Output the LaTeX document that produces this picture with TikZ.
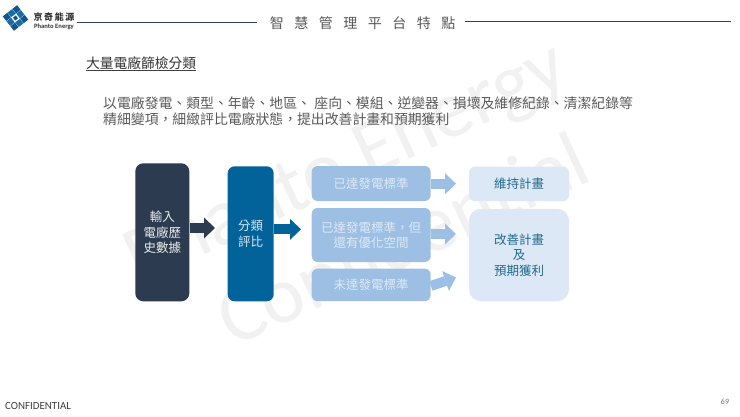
\documentclass[tikz,border=0pt]{standalone}
\usepackage{fontspec}
\setmainfont{Noto Sans CJK TC}
\newfontfamily\latinf{Carlito}
\usetikzlibrary{arrows.meta}
\definecolor{navy}{HTML}{2C3B50}
\definecolor{deepblue}{HTML}{02639B}
\definecolor{midblue}{HTML}{9DBFE3}
\definecolor{paleblue}{HTML}{DCE8F5}
\definecolor{tealtext}{HTML}{1F6A8C}
\definecolor{bodygrey}{HTML}{595959}
\definecolor{rulecol}{HTML}{2F4558}
\definecolor{wmark}{HTML}{F1F1F1}
\definecolor{logoa}{HTML}{0F5590}
\definecolor{logob}{HTML}{1A6CA8}
\tikzset{
  boxbase/.style={inner sep=0pt,align=center,font=\fontsize{12.5}{15.5}\selectfont},
  navybox/.style={boxbase,fill=navy,text=white!90!navy,rounded corners=8pt,minimum width=54pt,minimum height=138pt},
  deepbox/.style={boxbase,fill=deepblue,text=white!85!deepblue,rounded corners=7pt,minimum width=46pt,minimum height=135pt},
  midbox/.style={boxbase,fill=midblue,text=white!65!midblue,rounded corners=6pt,minimum width=119pt},
  palebox/.style={boxbase,fill=paleblue,text=tealtext,minimum width=100pt},
  blockarrow/.style={draw=#1,line width=10pt,-{Triangle[length=11pt,width=21pt,line width=0pt,fill=#1]}},
  rulerline/.style={draw=rulecol,line width=0.8pt},
  watermark/.style={text=wmark,font=\latinf\fontsize{81}{85}\selectfont,inner sep=0pt},
  logocell/.style={fill=#1,draw=none}
}
\begin{document}
\begin{tikzpicture}[x=1pt,y=-1pt]
\useasboundingbox (0,0) rectangle (740,416);
\fill[white] (0,0) rectangle (740,416);
% watermark
\node[watermark,rotate=25] (wm1) at (347,165) {Phanto Energy};
\node[watermark,rotate=25] (wm2) at (402,238) {Confidential};
% logo
\begin{scope}[shift={(15.5,18)},rotate=38]
  \foreach \cx/\cy/\cc in {-6.2/-6.2/logoa,0/-6.2/logob,6.2/-6.2/logoa,-6.2/0/logob,6.2/0/logob,-6.2/6.2/logoa,0/6.2/logob,6.2/6.2/logoa}
    \fill[logocell=\cc] (\cx-2.9,\cy-2.9) rectangle (\cx+2.9,\cy+2.9);
  \fill[logocell=logoa] (-1.8,-1.8) rectangle (1.8,1.8);
\end{scope}
\node[inner sep=0pt,text=black!80,font=\bfseries\fontsize{9}{10}\selectfont] (lg1) at (54,17.3) {京\hspace{1.6pt}奇\hspace{1.6pt}能\hspace{1.6pt}源};
\node[inner sep=0pt,text=black!80,font=\latinf\bfseries\fontsize{6.6}{7}\selectfont] (lg2) at (54,26.5) {Phanto Energy};
% title and rules
\node[inner sep=0pt,text=bodygrey,font=\fontsize{14}{16}\selectfont] (title) at (362.5,23.5)
  {智\hspace{10.5pt}慧\hspace{10.5pt}管\hspace{10.5pt}理\hspace{10.5pt}平\hspace{10.5pt}台\hspace{10.5pt}特\hspace{10.5pt}點};
\coordinate (ruleLa) at (77,22.5);
\coordinate (ruleRb) at (731,21.5);
\draw[rulerline] (ruleLa) -- (257,22.5);
\draw[rulerline] (465,21.5) -- (ruleRb);
% heading
\node[inner sep=0pt,anchor=west,text=black!80,font=\fontsize{13.75}{16}\selectfont] (head) at (86,63) {大量電廠篩檢分類};
\draw[black!75,line width=0.7pt] (86,70.5) -- (196,70.5);
% body
\node[inner sep=0pt,anchor=west,text=bodygrey,font=\fontsize{13.85}{16}\selectfont] (l1) at (103,103)
  {以電廠發電、類型、年齡、地區、\hspace{3.5pt}座向、模組、逆變器、損壞及維修紀錄、清潔紀錄等};
\node[inner sep=0pt,anchor=west,text=bodygrey,font=\fontsize{13.85}{16}\selectfont] (l2) at (103,119.5)
  {精細變項，細緻評比電廠狀態，提出改善計畫和預期獲利};
% boxes
\node[navybox] (input) at (162.3,232.3) {輸入\\電廠歷\\史數據};
\node[deepbox] (classify) at (250.7,233.8) {分類\\評比};
\node[midbox,minimum height=35pt] (reach) at (371.2,183.5) {已達發電標準};
\node[midbox,minimum height=54pt] (room) at (371.2,235) {已達發電標準，但\\還有優化空間};
\node[midbox,minimum height=32.5pt] (below) at (371.2,284.9) {未達發電標準};
\node[palebox,rounded corners=6pt,minimum height=34.5pt,text=tealtext] (keep) at (519,183.9) {維持計畫};
\node[palebox,rounded corners=12pt,minimum height=92.5pt] (improve) at (519,255) {改善計畫\\及\\預期獲利};
% arrows
\coordinate (tipA) at (215,228);
\coordinate (tipB) at (301,229.3);
\coordinate (tipC) at (456,183.7);
\coordinate (tipD) at (456,234);
\coordinate (tipE) at (456,277.5);
\draw[blockarrow=navy] (input.east |- tipA) -- (tipA);
\draw[blockarrow=deepblue] (classify.east |- tipB) -- (tipB);
\draw[blockarrow=midblue] (reach.east |- tipC) -- (tipC);
\draw[blockarrow=midblue] (room.east |- tipD) -- (tipD);
\draw[blockarrow=midblue] ([yshift=-1pt]below.east) -- (tipE);
% footer
\node[inner sep=0pt,anchor=west,text=black!75,font=\latinf\fontsize{10.9}{12}\selectfont] (conf) at (5,406) {CONFIDENTIAL};
\node[inner sep=0pt,text=black!55,font=\latinf\fontsize{8}{10}\selectfont] (page) at (725,402) {69};
\end{tikzpicture}
\end{document}
